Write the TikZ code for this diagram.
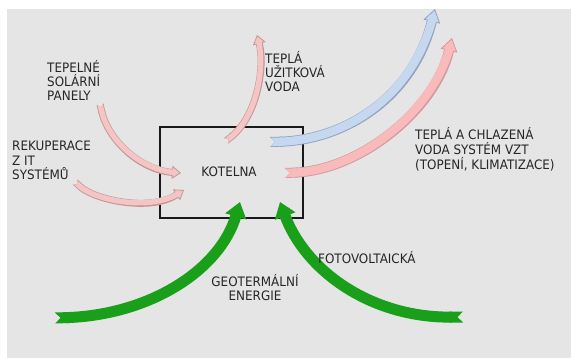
\documentclass[tikz,border=0pt]{standalone}
\usepackage{fontspec}
\setmainfont{DejaVu Sans}[FakeStretch=0.92]
\usetikzlibrary{arrows.meta}
\definecolor{bgc}{HTML}{E5E5E5}
\definecolor{pkfill}{HTML}{F3C5C5}
\definecolor{pkline}{HTML}{C99393}
\definecolor{bpkfill}{HTML}{F8BABA}
\definecolor{bpkline}{HTML}{D39999}
\definecolor{blfill}{HTML}{C6D8EF}
\definecolor{blline}{HTML}{8EA3BF}
\definecolor{grn}{HTML}{1A9F1A}
\tikzset{
  lbl/.style={font=\fontsize{13}{14.5}\selectfont, inner sep=0pt, anchor=base west, text=black!85},
  smallouter/.style={line width=7pt, draw=pkline, {Triangle Cap[reversed]}-{Triangle[width=13pt,length=9pt,line width=0.8pt,fill=pkfill]}},
  smallinner/.style={line width=5.4pt, draw=pkfill, shorten >=5pt, shorten <=0.9pt, {Triangle Cap[reversed]}-},
  bigouter/.style={line width=10pt, draw=#1line, {Triangle Cap[reversed]}-{Triangle[width=17pt,length=13pt,line width=0.8pt,fill=#1fill]}},
  biginner/.style={line width=8.4pt, draw=#1fill, shorten >=7pt, shorten <=0.9pt, {Triangle Cap[reversed]}-},
  greenarrow/.style={line width=11pt, draw=grn, {Triangle Cap[reversed]}-{Triangle[width=21pt,length=15pt]}},
  boxstyle/.style={draw=black!90, line width=1.4pt}
}
\begin{document}
\begin{tikzpicture}[x=1pt,y=-1pt]
\useasboundingbox (0,0) rectangle (571,358);
\fill[white] (0,0) rectangle (571,358);
\fill[bgc] (7,9) rectangle (571,358);

% boiler room box
\draw[boxstyle] (160,127) rectangle (303,218);
\node[lbl, anchor=base] (kot) at (229,176.5) {KOTELNA};

% coordinates
\coordinate (sA) at (100,104); \coordinate (eA) at (181,173);
\coordinate (sB) at (75,182);  \coordinate (eB) at (184,190);
\coordinate (sC) at (226,141); \coordinate (eC) at (257,35);
\coordinate (sD) at (270,142); \coordinate (eD) at (435,9);
\coordinate (sE) at (285,173); \coordinate (eE) at (452,38);
\coordinate (sF) at (55,318);  \coordinate (eF) at (240,202);
\coordinate (sG) at (463,317); \coordinate (eG) at (280,202);

\def\pathsolar{(sA) .. controls (108,140) and (140,170) .. (eA)}
\def\pathrekup{(sB) .. controls (95,200) and (150,212) .. (eB)}
\def\pathtuv{(sC) .. controls (258,115) and (265,65) .. (eC)}
\def\pathblue{(sD) .. controls (342,140) and (412,100) .. (eD)}
\def\pathpink{(sE) .. controls (360,170) and (435,110) .. (eE)}

\draw[smallouter] \pathsolar; \draw[smallinner] \pathsolar;
\draw[smallouter] \pathrekup; \draw[smallinner] \pathrekup;
\draw[smallouter] \pathtuv;   \draw[smallinner] \pathtuv;
\draw[bigouter=bl] \pathblue; \draw[biginner=bl] \pathblue;
\draw[bigouter=bpk] \pathpink; \draw[biginner=bpk] \pathpink;

\draw[greenarrow] (sF) .. controls (150,315) and (220,270) .. (eF);
\draw[greenarrow] (sG) .. controls (370,318) and (305,270) .. (eG);

% labels
\node[lbl] (t1) at (47,73) {TEPELNÉ};
\node[lbl] (t2) at (47,87) {SOLÁRNÍ};
\node[lbl] (t3) at (47,101) {PANELY};
\node[lbl] (r1) at (12,151) {REKUPERACE};
\node[lbl] (r2) at (12,165.5) {Z IT};
\node[lbl] (r3) at (12,179.5) {SYSTÉMŮ};
\node[lbl] (u1) at (265,63.5) {TEPLÁ};
\node[lbl] (u2) at (265,77.5) {UŽITKOVÁ};
\node[lbl] (u3) at (265,91.5) {VODA};
\node[lbl] (v1) at (415,140) {TEPLÁ A CHLAZENÁ};
\node[lbl] (v2) at (415,154.5) {VODA SYSTÉM VZT};
\node[lbl] (v3) at (415,169.5) {(TOPENÍ, KLIMATIZACE)};
\node[lbl] (f1) at (318,263.5) {FOTOVOLTAICKÁ};
\node[lbl, anchor=base] (g1) at (255,286.5) {GEOTERMÁLNÍ};
\node[lbl, anchor=base] (g2) at (255,300.5) {ENERGIE};
\end{tikzpicture}
\end{document}
